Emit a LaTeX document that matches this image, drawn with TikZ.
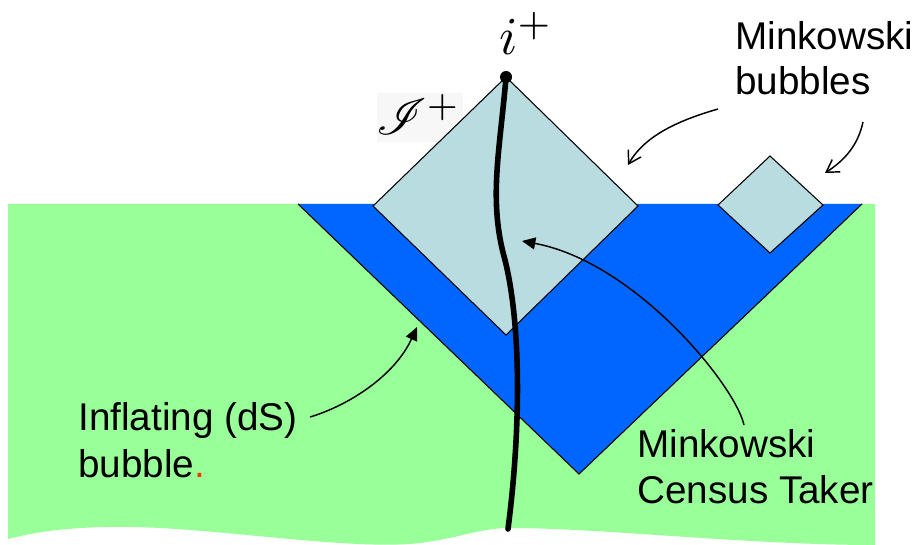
\documentclass[tikz,border=0pt]{standalone}
\usepackage[no-math]{fontspec}
\setmainfont{Liberation Sans}
\usepackage{mathrsfs}
\usepackage{graphicx}
\usetikzlibrary{arrows.meta}
\definecolor{dsgreen}{RGB}{153,255,153}
\definecolor{mblue}{RGB}{0,102,255}
\definecolor{lightdia}{RGB}{185,220,224}
\definecolor{reddot}{RGB}{255,51,0}
\tikzset{
  lbl/.style={font=\fontsize{29}{34}\selectfont, inner sep=0pt, anchor=base west},
  edgeline/.style={black, line width=0.8pt},
  dia/.style={fill=lightdia, draw=black, line width=0.8pt},
  openarrow/.style={line width=1.1pt, -{Straight Barb[length=9pt,width=11pt,line width=1.1pt]}},
  filledarrow/.style={line width=1.1pt, -{Triangle[length=10pt,width=9pt]}},
}
\begin{document}
\begin{tikzpicture}[x=0.75pt,y=-0.75pt]
\useasboundingbox (0,0) rectangle (920,545);
% green region with wavy bottom
\fill[dsgreen] (8,204) -- (875,204) -- (875,545)
  .. controls (750,545) and (600,528) .. (510,528)
  .. controls (480,528) and (460,538) .. (420,543)
  .. controls (360,550) and (250,533) .. (160,528)
  .. controls (100,525) and (50,528) .. (8,539) -- cycle;
% blue triangle
\coordinate (bl) at (298,204);
\coordinate (br) at (862,204);
\coordinate (bb) at (579,474);
\fill[mblue] (bl) -- (br) -- (bb) -- cycle;
\draw[edgeline] (bl) -- (bb) -- (br);
% faint label background
\fill[black!3] (377,93) rectangle (463,142);
% big diamond
\coordinate (top) at (506,77);
\draw[dia] (top) -- (638,206) -- (506,335) -- (373,206) -- cycle;
% small diamond
\draw[dia] (770,156) -- (823,205) -- (770,253) -- (718,205) -- cycle;
% world line
\coordinate (wend) at (508,529);
\draw[line width=4.2pt, line cap=round] (top) .. controls (500,150) and (488,200) .. (505,260) .. controls (520,320) and (522,420) .. (wend);
\fill (top) circle (6);
% labels
\node[inner sep=0pt, anchor=base west] (iplus) at (499,55) {\scalebox{4}{$i^+$}};
\node[inner sep=0pt, anchor=base west] (scri) at (376,135) {\scalebox{3.8}{$\mathscr{I}^+$}};
\node[lbl] (mb1) at (735,50) {Minkowski};
\node[lbl] (mb2) at (735,95) {bubbles};
\node[lbl] (inf1) at (78,430) {Inflating (dS)};
\node[lbl] (inf2) at (78,477) {bubble{\color{reddot}.}};
\node[lbl] (ct1) at (637,457) {Minkowski};
\node[lbl] (ct2) at (637,503) {Census Taker};
% arrows
\coordinate (a1s) at (718,109);
\coordinate (a1e) at (628,165);
\coordinate (a2s) at (863,122);
\coordinate (a2e) at (825,173);
\coordinate (a3s) at (310,417);
\coordinate (a3e) at (417,327);
\coordinate (a4s) at (744,425);
\coordinate (a4e) at (522,241);
\draw[openarrow] (a1s) .. controls (680,120) and (645,135) .. (a1e);
\draw[openarrow] (a2s) .. controls (858,145) and (845,160) .. (a2e);
\draw[filledarrow] (a3s) .. controls (350,405) and (395,375) .. (a3e);
\draw[filledarrow] (a4s) .. controls (735,385) and (635,262) .. (a4e);
\end{tikzpicture}
\end{document}
